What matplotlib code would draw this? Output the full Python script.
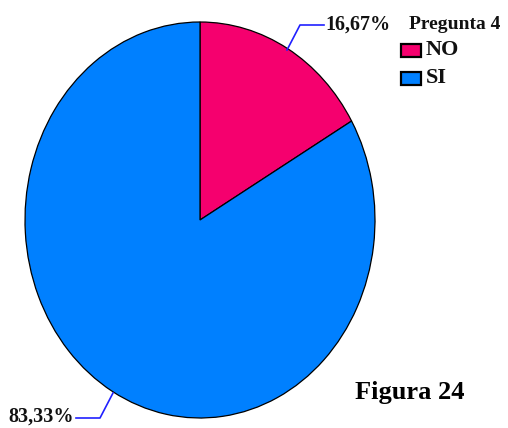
import matplotlib
matplotlib.use("Agg")
import matplotlib.pyplot as plt

categories = ["NO", "SI"]
values = [16.67, 83.33]
labels = ["16,67%", "83,33%"]
colors = ["#F5006E", "#0080FF"]
legend_title = "Pregunta 4"
caption = "Figura 24"

W, H = 508, 428
fig = plt.figure(figsize=(W / 100, H / 100), dpi=100)
plt.rcParams['font.family'] = ['Liberation Serif', 'DejaVu Serif']

# pie axes (ellipse)
cx, cy, rx, ry = 200, 220, 175, 198
ax = fig.add_axes([(cx - rx) / W, (H - cy - ry) / H, 2 * rx / W, 2 * ry / H])
wedges, _ = ax.pie(values, colors=colors, startangle=90, counterclock=False,
                   wedgeprops=dict(edgecolor="black", linewidth=0.9))
ax.set_aspect('auto')
ax.set_xlim(-1, 1)
ax.set_ylim(-1, 1)
ax.axis('off')

# overlay axes in pixel coordinates
ov = fig.add_axes([0, 0, 1, 1])
ov.set_xlim(0, W)
ov.set_ylim(H, 0)
ov.axis('off')

fs = 14.5
# leader lines and labels
ov.plot([287, 300, 324], [50, 25, 25], color="#2020FF", lw=1.2)
ov.text(325, 25, labels[0], fontsize=fs, fontweight='bold', ha='left', va='center', color='#111111')
ov.plot([113, 100, 76], [393, 418, 418], color="#2020FF", lw=1.2)
ov.text(74, 417, labels[1], fontsize=fs, fontweight='bold', ha='right', va='center', color='#111111')

# legend
ov.text(409, 24, legend_title, fontsize=14, fontweight='bold', ha='left', va='center', color='#111111')
for i, (cat, col) in enumerate(zip(categories, colors)):
    y = 50 + 28 * i
    ov.add_patch(plt.Rectangle((401, y - 6.5), 20, 13, facecolor=col, edgecolor='black', lw=1.6))
    ov.text(426, y, cat, fontsize=16, fontweight='bold', ha='left', va='center', color='#111111')

ov.text(355, 393, caption, fontsize=19, fontweight='bold', ha='left', va='center', color='black')

fig.savefig("out.png", dpi=100)
